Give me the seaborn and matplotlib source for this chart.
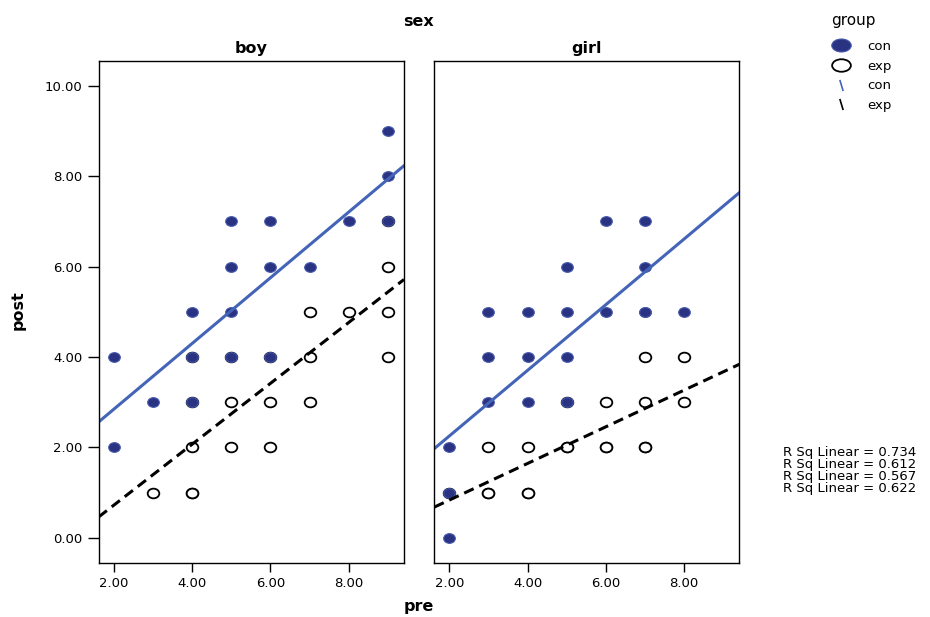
import numpy as np
import pandas as pd
import matplotlib
matplotlib.use("Agg")
import matplotlib.pyplot as plt
from matplotlib.path import Path
from matplotlib.lines import Line2D
from matplotlib.ticker import FormatStrFormatter
import seaborn as sns

# pre / post scores (stacked points repeated)
boy_con_pre = [2, 2, 3, 4, 4, 4, 5, 5, 5, 5, 6, 6, 6, 7, 8, 9, 9, 9]
boy_con_post = [4, 2, 3, 5, 4, 3, 7, 6, 5, 4, 7, 6, 4, 6, 7, 9, 8, 7]
boy_exp_pre = [3, 4, 4, 4, 4, 4, 5, 5, 5, 6, 6, 6, 7, 7, 7, 8, 9, 9, 9, 9]
boy_exp_post = [1, 1, 1, 2, 3, 4, 2, 3, 4, 2, 3, 4, 3, 4, 5, 5, 4, 5, 6, 7]
girl_con_pre = [2, 2, 2, 3, 3, 3, 4, 4, 4, 5, 5, 5, 5, 6, 6, 7, 7, 7, 7, 8]
girl_con_post = [2, 1, 0, 5, 4, 3, 5, 4, 3, 6, 5, 4, 3, 7, 5, 7, 6, 5, 5, 5]
girl_exp_pre = [2, 3, 3, 3, 4, 4, 4, 5, 5, 5, 6, 6, 6, 7, 7, 7, 7, 8, 8]
girl_exp_post = [1, 2, 1, 1, 2, 1, 1, 3, 2, 2, 3, 2, 2, 4, 3, 2, 2, 4, 3]

sexes = ["boy", "girl"]
groups = ["con", "exp"]
r_sq = ["0.734", "0.612", "0.567", "0.622"]
x_ticks = [2, 4, 6, 8]
y_ticks = [0, 2, 4, 6, 8, 10]

parts = [
    ("boy", "con", boy_con_pre, boy_con_post),
    ("boy", "exp", boy_exp_pre, boy_exp_post),
    ("girl", "con", girl_con_pre, girl_con_post),
    ("girl", "exp", girl_exp_pre, girl_exp_post),
]
df = pd.concat([pd.DataFrame({"sex": s, "group": g, "pre": x, "post": y})
                for s, g, x, y in parts], ignore_index=True)

con_fill = "#2A3282"
con_edge = "#4558AA"
con_line = "#4464B8"

sns.set_style("white")
plt.rcParams["font.family"] = ["DejaVu Sans"]
plt.rcParams["text.color"] = "black"
plt.rcParams["axes.labelcolor"] = "black"


def ellipse(ratio):
    circ = Path.unit_circle()
    return Path(circ.vertices * [ratio, 1.0], circ.codes)


dot = ellipse(1.2)

fig = plt.figure(figsize=(9.3, 6.17), dpi=100)
axes = {
    "boy": fig.add_axes([0.1061, 0.088, 0.3283, 0.8131]),
    "girl": fig.add_axes([0.467, 0.088, 0.328, 0.8131]),
}

for sex in sexes:
    ax = axes[sex]
    ax.set_xlim(1.62, 9.41)
    ax.set_ylim(-0.55, 10.55)
    sub = df[df["sex"] == sex]
    exp = sub[sub["group"] == "exp"]
    con = sub[sub["group"] == "con"]

    # open circles first, filled ones on top (as in the original)
    sns.scatterplot(data=exp, x="pre", y="post", marker=dot, s=70,
                    color="white", edgecolor="black", linewidth=1.3,
                    legend=False, ax=ax)
    sns.scatterplot(data=con, x="pre", y="post", marker=dot, s=70,
                    color=con_fill, edgecolor=con_edge, linewidth=0.8,
                    legend=False, ax=ax)

    # fit lines run across the whole panel
    sns.regplot(data=con, x="pre", y="post", scatter=False, ci=None,
                truncate=False, color=con_line, line_kws=dict(lw=2.2), ax=ax)
    sns.regplot(data=exp, x="pre", y="post", scatter=False, ci=None,
                truncate=False, color="black",
                line_kws=dict(lw=2.2, ls=(0, (3.4, 2.0))), ax=ax)

    ax.set_xlabel("")
    ax.set_ylabel("")
    ax.set_title(sex, fontsize=11.5, fontweight="bold", pad=5.5)
    ax.set_xticks(x_ticks)
    ax.xaxis.set_major_formatter(FormatStrFormatter("%.2f"))
    ax.tick_params(axis="x", direction="out", length=6.5, width=1,
                   colors="black", labelsize=9.5, pad=3.5, bottom=True)
    for sp in ax.spines.values():
        sp.set_color("black")
        sp.set_linewidth(1.0)

ax = axes["boy"]
ax.set_yticks(y_ticks)
ax.yaxis.set_major_formatter(FormatStrFormatter("%.2f"))
ax.tick_params(axis="y", direction="out", length=8, width=1,
               colors="black", labelsize=9.5, pad=3.5, left=True)
axes["girl"].set_yticks([])

fig.text(0.4505, 1 - 21 / 617, "sex", ha="center", va="center",
         fontsize=11.5, fontweight="bold")
fig.text(0.4505, 1 - 607 / 617, "pre", ha="center", va="center",
         fontsize=11.5, fontweight="bold")
fig.text(18 / 930, 1 - 310 / 617, "post", ha="center", va="center",
         rotation=90, fontsize=11.5, fontweight="bold")

# legend: markers for points, short strokes for the fit lines
big = ellipse(1.5)
slash = Path([(-0.15, 0.5), (0.15, -0.5)])
handles = [
    Line2D([], [], ls="none", marker=big, ms=14, mfc=con_fill, mec=con_edge, mew=0.8),
    Line2D([], [], ls="none", marker=big, ms=13.5, mfc="white", mec="black", mew=1.3),
    Line2D([], [], ls="none", marker=slash, ms=8, mfc="none", mec=con_line, mew=1.2),
    Line2D([], [], ls="none", marker=slash, ms=8, mfc="none", mec="black", mew=1.2),
]
fig.text(831 / 930, 1 - 20 / 617, "group", ha="left", va="center", fontsize=11)
fig.legend(handles, groups + groups, loc="upper left",
           bbox_to_anchor=(830 / 930, 1 - 40 / 617), frameon=False,
           fontsize=9.5, labelspacing=0.5,
           handlelength=1.6, handletextpad=1.2,
           borderpad=0, borderaxespad=0)

fig.text(783 / 930, 1 - 446 / 617,
         "\n".join(f"R Sq Linear = {v}" for v in r_sq),
         ha="left", va="top", fontsize=9.5, linespacing=0.89)

fig.savefig("out.png", dpi=100)
